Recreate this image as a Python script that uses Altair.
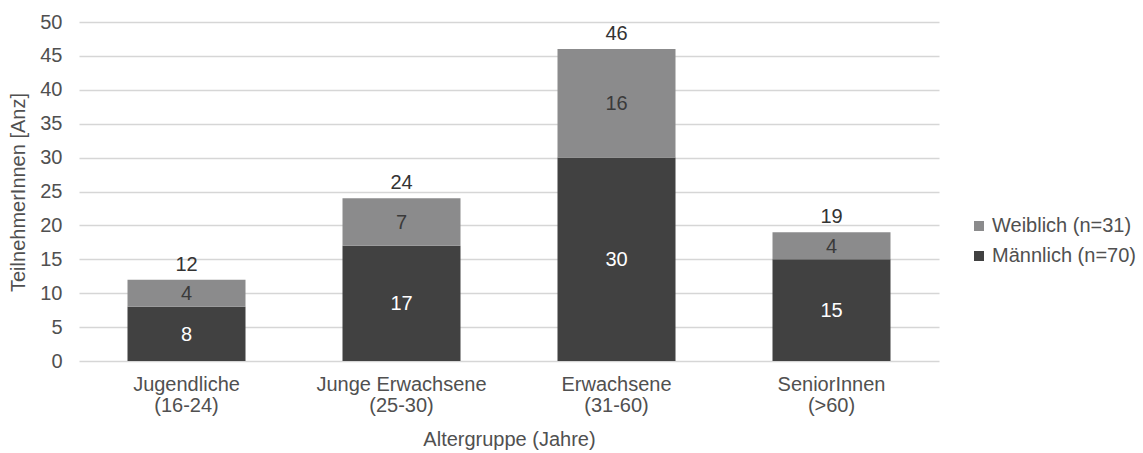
import altair as alt
import pandas as pd

# Age groups and participants per gender
groups = ["Jugendliche (16-24)", "Junge Erwachsene (25-30)", "Erwachsene (31-60)", "SeniorInnen (>60)"]
maennlich = [8, 17, 30, 15]
weiblich = [4, 7, 16, 4]
series = ["Weiblich (n=31)", "Männlich (n=70)"]
colors = ["#8b8b8c", "#414141"]
text_colors = ["#3a3a3a", "#ffffff"]
y_ticks = [0, 5, 10, 15, 20, 25, 30, 35, 40, 45, 50]

rows = []
for g, m, w in zip(groups, maennlich, weiblich):
    rows.append({"gruppe": g, "geschlecht": series[1], "anzahl": m, "ord": 0})
    rows.append({"gruppe": g, "geschlecht": series[0], "anzahl": w, "ord": 1})
df = pd.DataFrame(rows)
totals = pd.DataFrame({"gruppe": groups, "summe": [m + w for m, w in zip(maennlich, weiblich)]})

FONT = "Liberation Sans"
FS = 20
GREY = "#505050"
label_expr = "[slice(datum.label, 0, indexof(datum.label, ' (')), slice(datum.label, indexof(datum.label, ' (') + 1)]"

x_scale = alt.Scale(paddingInner=0.45, paddingOuter=0.225)
y_scale = alt.Scale(domain=[0, 50])

x_axis = alt.Axis(
    title="Altergruppe (Jahre)",
    labelAngle=0,
    labelExpr=label_expr,
    labelFontSize=FS,
    labelColor=GREY,
    labelLineHeight=21,
    labelPadding=13,
    ticks=False,
    domain=False,
    grid=False,
    titleFontSize=FS,
    titleFontWeight="normal",
    titleColor=GREY,
    titlePadding=14,
)

y_axis = alt.Axis(
    title="TeilnehmerInnen [Anz]",
    values=y_ticks,
    labelOverlap=False,
    grid=True,
    gridColor="#d6d6d6",
    gridWidth=1.5,
    domain=False,
    ticks=False,
    labelFontSize=FS,
    labelColor=GREY,
    labelPadding=17,
    titleFontSize=FS,
    titleFontWeight="normal",
    titleColor=GREY,
    titleX=-61,
    titleY=170,
    titleAngle=-90,
    titleBaseline="middle",
)

bars = alt.Chart(df).mark_bar(size=118).encode(
    x=alt.X("gruppe:N", sort=groups, scale=x_scale, axis=x_axis),
    y=alt.Y("anzahl:Q", stack="zero", scale=y_scale, axis=y_axis),
    color=alt.Color(
        "geschlecht:N",
        scale=alt.Scale(domain=series, range=colors),
        legend=alt.Legend(
            title=None,
            orient="none",
            legendX=890,
            legendY=194,
            symbolType="square",
            symbolSize=100,
            symbolStrokeWidth=0,
            labelFontSize=FS,
            labelColor=GREY,
            labelOffset=3,
            rowPadding=10,
        ),
    ),
    order=alt.Order("ord:Q", sort="ascending"),
)

inner = alt.Chart(df).transform_stack(
    stack="anzahl", groupby=["gruppe"], as_=["y0", "y1"], sort=[alt.SortField("ord", "ascending")]
).transform_calculate(
    mid="(datum.y0 + datum.y1) / 2"
).mark_text(fontSize=FS, font=FONT, baseline="middle", dy=1).encode(
    x=alt.X("gruppe:N", sort=groups, scale=x_scale, axis=x_axis),
    y=alt.Y("mid:Q", scale=y_scale, axis=y_axis),
    text="anzahl:Q",
    color=alt.Color("geschlecht:N", scale=alt.Scale(domain=series, range=text_colors), legend=None),
)

top = alt.Chart(totals).mark_text(fontSize=FS, font=FONT, baseline="bottom", dy=-5, color="#333333").encode(
    x=alt.X("gruppe:N", sort=groups, scale=x_scale, axis=x_axis),
    y=alt.Y("summe:Q", scale=y_scale, axis=y_axis),
    text="summe:Q",
)

chart = alt.layer(bars, inner, top).resolve_scale(color="independent").properties(
    width=860,
    height=339,
    autosize=alt.AutoSizeParams(type="none"),
    padding={"left": 79, "top": 22, "right": 204, "bottom": 92},
    background="white",
).configure(font=FONT).configure_view(stroke=None)

chart.save("out.html", embed_options={"renderer": "svg", "actions": False})
